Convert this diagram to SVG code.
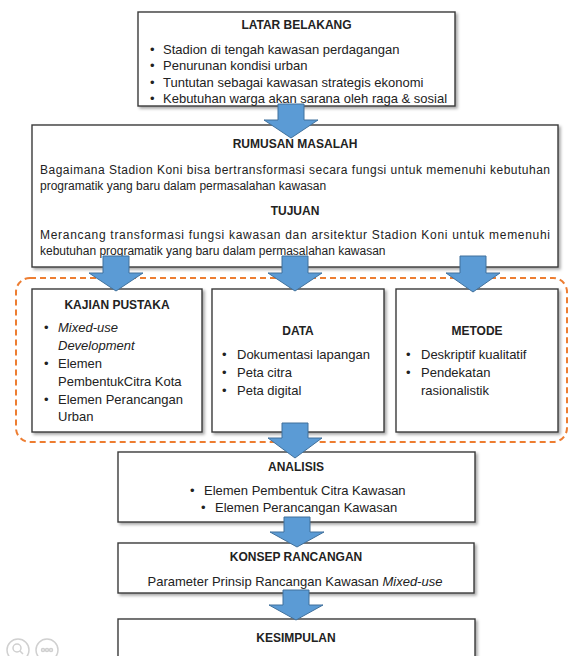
<svg xmlns="http://www.w3.org/2000/svg" width="570" height="656" viewBox="0 0 570 656">
<defs>
<filter id="sh" x="-5%" y="-5%" width="115%" height="125%">
<feDropShadow dx="2" dy="2" stdDeviation="1.5" flood-color="#000" flood-opacity="0.35"/>
</filter>
<style>
.box{fill:#fff;stroke:#3a3a3a;stroke-width:1.4;filter:url(#sh)}
.arr{fill:#5B9BD5;stroke:#41719C;stroke-width:1}
.t{font-family:"Liberation Sans",Arial,sans-serif;font-size:13px;fill:#222}
.b{font-weight:bold;font-size:12px;text-anchor:middle}
.p{font-size:12px}
.i{font-style:italic}
.c{text-anchor:middle}
.ic{fill:none;stroke:#d0d0d0;stroke-width:1.5}
</style>
</defs>
<rect width="570" height="656" fill="#fff"/>

<g id="group-methods">
<rect x="16" y="278" width="551" height="164" rx="14" fill="none" stroke="#ED7D31" stroke-width="2" stroke-dasharray="6 4"/>
</g>

<g id="latar-belakang">
<rect class="box" x="138" y="12" width="317" height="94"/>
<text class="t b" x="296.5" y="29">LATAR BELAKANG</text>
<text class="t" x="150" y="53.5">•</text><text class="t" x="163" y="53.5">Stadion di tengah kawasan perdagangan</text>
<text class="t" x="150" y="70">•</text><text class="t" x="163" y="70">Penurunan kondisi urban</text>
<text class="t" x="150" y="86.5">•</text><text class="t" x="163" y="86.5">Tuntutan sebagai kawasan strategis ekonomi</text>
<text class="t" x="150" y="102.5">•</text><text class="t" x="163" y="102.5">Kebutuhan warga akan sarana oleh raga &amp; sosial</text>
</g>

<g id="rumusan-masalah">
<rect class="box" x="32" y="125" width="526" height="142"/>
<text class="t b" x="295" y="148">RUMUSAN MASALAH</text>
<text class="t p" x="40" y="174" textLength="510" lengthAdjust="spacing">Bagaimana Stadion Koni bisa bertransformasi secara fungsi untuk memenuhi kebutuhan</text>
<text class="t p" x="40" y="190">programatik yang baru dalam permasalahan kawasan</text>
<text class="t b" x="295" y="215">TUJUAN</text>
<text class="t p" x="40" y="238.5" textLength="510" lengthAdjust="spacing">Merancang transformasi fungsi kawasan dan arsitektur Stadion Koni untuk memenuhi</text>
<text class="t p" x="40" y="254.5">kebutuhan programatik yang baru dalam permasalahan kawasan</text>
</g>

<g id="kajian-pustaka">
<rect class="box" x="32" y="289" width="170" height="143"/>
<text class="t b" x="117" y="309">KAJIAN PUSTAKA</text>
<text class="t" x="44" y="332">•</text><text class="t i" x="58" y="332">Mixed-use</text>
<text class="t i" x="58" y="350">Development</text>
<text class="t" x="44" y="368">•</text><text class="t" x="58" y="368">Elemen</text>
<text class="t" x="58" y="386">PembentukCitra Kota</text>
<text class="t" x="44" y="404">•</text><text class="t" x="58" y="404">Elemen Perancangan</text>
<text class="t" x="58" y="421">Urban</text>
</g>

<g id="data">
<rect class="box" x="212" y="289" width="172" height="143"/>
<text class="t b" x="298" y="335">DATA</text>
<text class="t" x="222" y="359">•</text><text class="t" x="237" y="359">Dokumentasi lapangan</text>
<text class="t" x="222" y="377">•</text><text class="t" x="237" y="377">Peta citra</text>
<text class="t" x="222" y="395">•</text><text class="t" x="237" y="395">Peta digital</text>
</g>

<g id="metode">
<rect class="box" x="396" y="289" width="162" height="143"/>
<text class="t b" x="477" y="335">METODE</text>
<text class="t" x="406" y="359">•</text><text class="t" x="421" y="359">Deskriptif kualitatif</text>
<text class="t" x="406" y="377">•</text><text class="t" x="421" y="377">Pendekatan</text>
<text class="t" x="421" y="395">rasionalistik</text>
</g>

<g id="analisis">
<rect class="box" x="118" y="452" width="357" height="70"/>
<text class="t b" x="296" y="471">ANALISIS</text>
<text class="t" x="190" y="495">•</text><text class="t" x="204" y="495">Elemen Pembentuk Citra Kawasan</text>
<text class="t" x="201" y="512">•</text><text class="t" x="215" y="512">Elemen Perancangan Kawasan</text>
</g>

<g id="konsep-rancangan">
<rect class="box" x="118" y="543" width="356" height="50"/>
<text class="t b" x="296" y="561">KONSEP RANCANGAN</text>
<text class="t c" x="295" y="586">Parameter Prinsip Rancangan Kawasan <tspan class="i">Mixed-use</tspan></text>
</g>

<g id="kesimpulan">
<rect class="box" x="118" y="619" width="357" height="60"/>
<text class="t b" x="296" y="642">KESIMPULAN</text>
</g>

<g id="connectors">
<path class="arr" d="M278,104 H304 V120 H318 L291,138 L264,120 H278 Z"/>
<path class="arr" d="M103,256 H129 V273 H143 L116,291 L89,273 H103 Z"/>
<path class="arr" d="M282,256 H308 V273 H322 L295,291 L268,273 H282 Z"/>
<path class="arr" d="M460,256 H486 V273 H500 L473,292 L446,273 H460 Z"/>
<path class="arr" d="M282,423 H308 V438 H322 L295,458 L268,438 H282 Z"/>
<path class="arr" d="M284,517 H310 V532 H324 L297,547 L270,532 H284 Z"/>
<path class="arr" d="M283,590 H309 V605 H323 L296,620 L269,605 H283 Z"/>
</g>

<g id="viewer-icons">
<circle class="ic" cx="18" cy="650" r="11"/>
<circle class="ic" cx="17" cy="648" r="4"/>
<line class="ic" x1="20" y1="651" x2="23" y2="654"/>
<circle class="ic" cx="47" cy="650" r="11"/>
<circle class="ic" cx="43" cy="650" r="1.5"/>
<circle class="ic" cx="47" cy="650" r="1.5"/>
<circle class="ic" cx="51" cy="650" r="1.5"/>
</g>
</svg>
